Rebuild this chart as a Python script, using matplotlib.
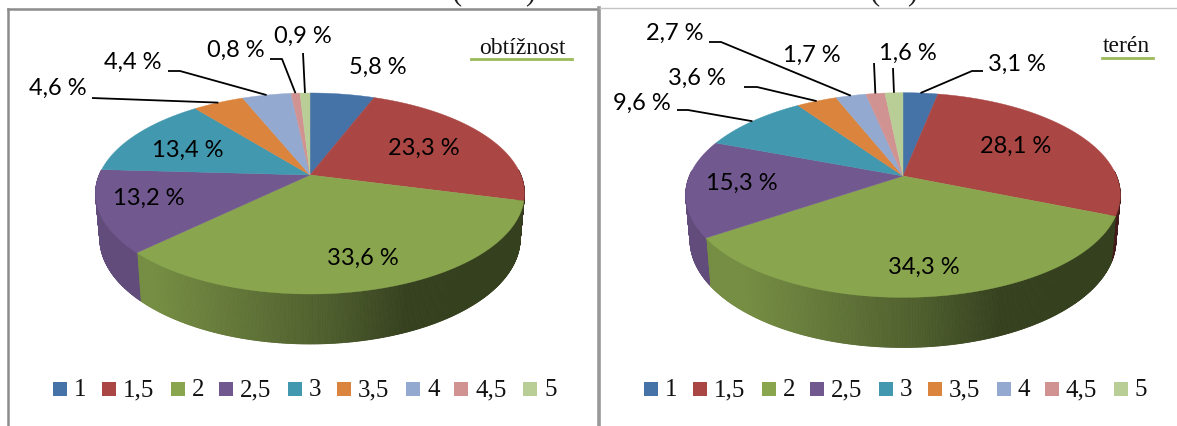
import numpy as np
import matplotlib
matplotlib.use("Agg")
import matplotlib.pyplot as plt
from matplotlib.patches import Polygon, Rectangle
from matplotlib.collections import PolyCollection

categories = ["1", "1,5", "2", "2,5", "3", "3,5", "4", "4,5", "5"]
obtiznost = [5.8, 23.3, 33.6, 13.2, 13.4, 4.6, 4.4, 0.8, 0.9]
teren = [3.1, 28.1, 34.3, 15.3, 9.6, 3.6, 2.7, 1.7, 1.6]
colors = ["#4572a7", "#aa4643", "#89a54e", "#71588f", "#4198af",
          "#db843d", "#93a9cf", "#d19392", "#b9cd96"]

W, H = 1177, 426
fig = plt.figure(figsize=(W / 100, H / 100), dpi=100, facecolor="white")
ax = fig.add_axes([0, 0, 1, 1])
ax.set_xlim(0, W)
ax.set_ylim(H, 0)
ax.axis("off")

LABEL_FONT = "Lato"
SERIF = "Liberation Serif"


def project(theta, g):
    """Perspective projection of a rim point of the pie's top face."""
    X, Y = np.sin(theta), np.cos(theta)
    w = 1 + g["k"] * Y
    return g["a"] * X / w, -g["b"] * Y / w


def draw_pie(values, g):
    vals = np.asarray(values, dtype=float)
    edges = np.concatenate([[0], np.cumsum(vals)]) / vals.sum() * 2 * np.pi
    cx, cy = g["cx"], g["cy"]
    # side wall
    for i, col in enumerate(colors):
        n = max(int((edges[i + 1] - edges[i]) * 180), 2)
        th = np.linspace(edges[i], edges[i + 1], n + 1)
        dx, dy = project(th, g)
        tx, ty = cx + dx, cy + dy
        bx, by = cx + dx * g["sx"], cy + dy * g["sy"] + g["d"]
        quads, fc = [], []
        base = np.array(matplotlib.colors.to_rgb(col))
        for j in range(n):
            if np.cos(th[j]) > 0.05 and np.cos(th[j + 1]) > 0.05:
                continue
            t = (dx[j] + dx[j + 1]) / 2 / g["a"]
            f = np.interp(t, [-1.0, -0.75, -0.3, 0.1, 0.45, 1.0],
                          [0.86, 0.86, 0.70, 0.56, 0.39, 0.39])
            quads.append([(tx[j], ty[j]), (tx[j + 1], ty[j + 1]),
                          (bx[j + 1], by[j + 1]), (bx[j], by[j])])
            fc.append(base * f)
        if quads:
            ax.add_collection(PolyCollection(quads, facecolors=fc, edgecolors=fc,
                                             linewidths=0.6, zorder=2))
    # top face
    for i, col in enumerate(colors):
        n = max(int((edges[i + 1] - edges[i]) * 90), 3)
        th = np.linspace(edges[i], edges[i + 1], n + 1)
        dx, dy = project(th, g)
        pts = np.column_stack([np.r_[cx, cx + dx], np.r_[cy, cy + dy]])
        ax.add_patch(Polygon(pts, closed=True, facecolor=col, edgecolor=col,
                             linewidth=0.3, zorder=3 + i * 0.01))
    # value labels and leader lines
    for i, v in enumerate(vals):
        txt = f"{v:.1f} %".replace(".", ",")
        lx, ly = g["labels"][i]
        ax.text(lx, ly, txt, ha="center", va="center", fontsize=17,
                family=LABEL_FONT, color="#000000", zorder=6)
        if g["elbows"][i] is not None:
            mid = (edges[i] + edges[i + 1]) / 2
            dx, dy = project(mid, g)
            xs = [p[0] for p in g["elbows"][i]] + [cx + float(dx)]
            ys = [p[1] for p in g["elbows"][i]] + [cy + float(dy)]
            ax.plot(xs, ys, color="black", lw=1.3, zorder=5, solid_capstyle="butt")


left = dict(
    cx=310, cy=175, a=210.8, b=97.1, k=0.184, sx=0.98, sy=1.05, d=44,
    labels=[(378, 67), (424, 148), (363, 258), (149, 198), (188, 150),
            (58, 88), (133, 62), (236, 50), (303, 36)],
    elbows=[None, None, None, None, None,
            [(92, 98)], [(168, 71), (180, 71)], [(270, 59), (282, 59)], [(303, 53)]],
)
right = dict(
    cx=903, cy=176, a=213.5, b=98.8, k=0.186, sx=0.98, sy=1.05, d=44,
    labels=[(1017, 64), (1016, 146), (924, 267), (742, 183), (642, 103),
            (697, 78), (675, 33), (812, 55), (908, 53)],
    elbows=[[(983, 71), (972, 71)], None, None, None, [(677, 110), (688, 110)],
            [(744, 87), (757, 87)], [(709, 42), (721, 42)], [(874, 63)], [(893, 68)]],
)

draw_pie(obtiznost, left)
draw_pie(teren, right)

# panel frames
ax.plot([8, 8], [H, 9], color="#8c8c8c", lw=1.8, zorder=1)
ax.plot([8, 598], [9, 9], color="#8c8c8c", lw=1.8, zorder=1)
ax.plot([599, 599], [8, H], color="#999999", lw=2.6, zorder=1)
ax.plot([600, W], [8, 8], color="#c4c4c4", lw=1.0, zorder=1)

# panel names
ax.text(522, 48, "obtížnost", ha="center", va="center", fontsize=17, family=SERIF, color="#111111")
ax.plot([471, 572], [59, 59], color="#9bbb59", lw=2)
ax.text(1126, 46, "terén", ha="center", va="center", fontsize=17, family=SERIF, color="#111111")
ax.plot([1102, 1153], [57.5, 57.5], color="#9bbb59", lw=2)

# clipped heading fragments along the top edge, cut off as in the reference
for x, s in [(457, "("), (530, ")"), (875, "("), (912, ")")]:
    ax.text(x, -1, s, ha="center", va="baseline", fontsize=22, family=SERIF,
            color="#222222", clip_on=True)

# legends
legend_square_x = [53, 102, 171, 219, 288, 337, 406, 454, 523]
for off in (0, 591):
    for name, col, sx in zip(categories, colors, legend_square_x):
        ax.add_patch(Rectangle((sx + off, 382), 14, 14, facecolor=col, edgecolor="none"))
        ax.text(sx + off + 21, 390, name, ha="left", va="center", fontsize=18,
                family=SERIF, color="#111111")

fig.savefig("out.png", dpi=100, facecolor="white")
